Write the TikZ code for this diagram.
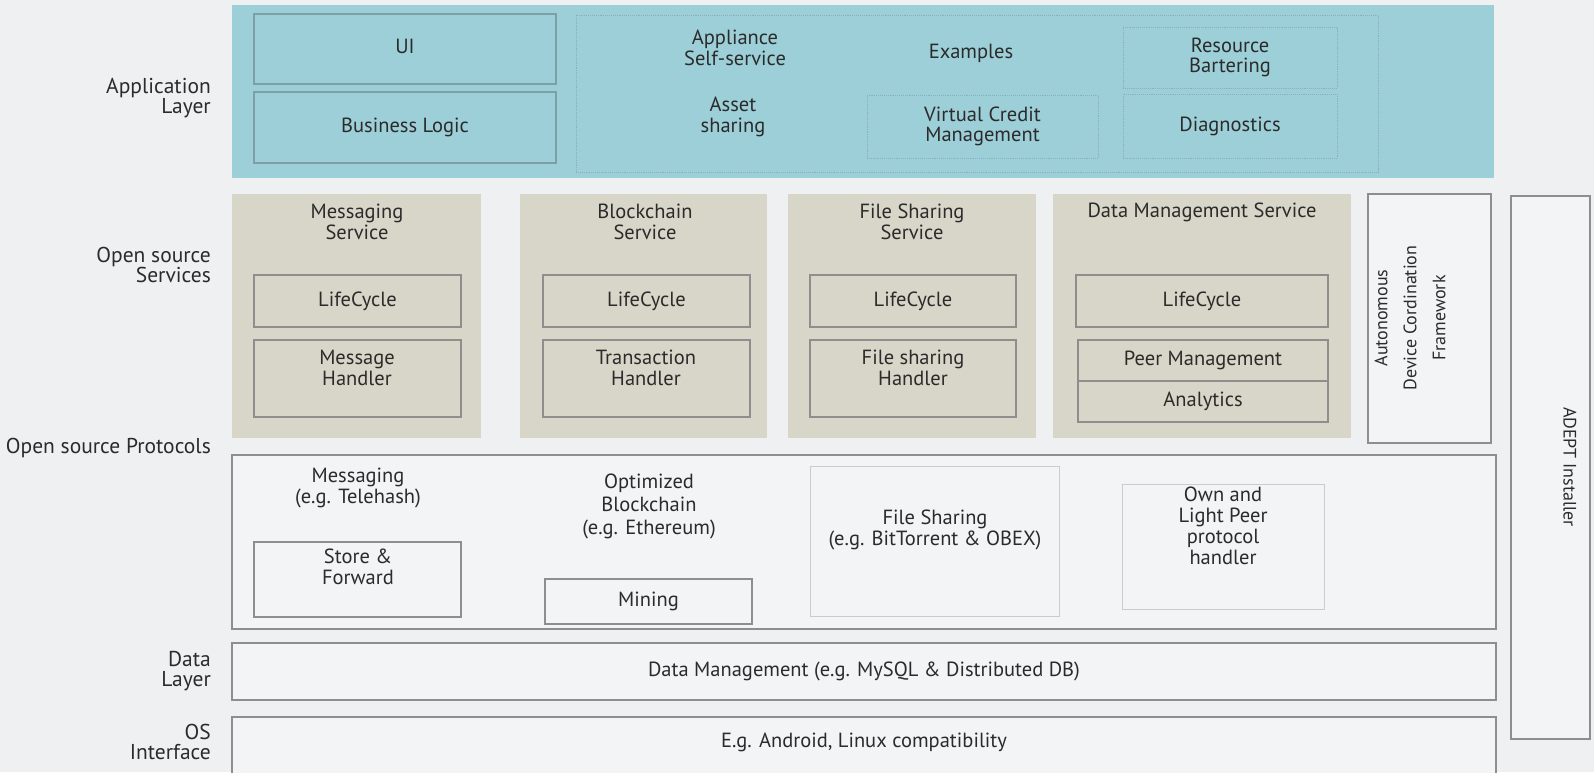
\documentclass[tikz,border=0pt]{standalone}
\usepackage{fontspec}
\setmainfont{PT Sans}
\definecolor{paper}{HTML}{EEF0F1}
\definecolor{appteal}{HTML}{9DCFD8}
\definecolor{tealedge}{HTML}{7E9FA5}
\definecolor{tealdot}{HTML}{86B3BB}
\definecolor{svctan}{HTML}{D8D6C8}
\definecolor{edge}{HTML}{8E8E8E}
\definecolor{faintedge}{HTML}{C9CBCC}
\definecolor{boxwhite}{HTML}{F3F4F5}
\definecolor{ink}{HTML}{2B2B2B}
\tikzset{
  txt/.style={font=\fontsize{20.5}{20.5}\selectfont, text=ink, align=center, inner sep=0pt},
  lbl/.style={txt, font=\fontsize{21.5}{20.5}\selectfont, align=right, anchor=east},
  nw/.style={anchor=north west, inner sep=0pt, outer sep=0pt},
  band/.style={nw, fill=appteal, draw=none},
  appbox/.style={nw, fill=appteal, draw=tealedge, line width=1.3pt, txt},
  dotbox/.style={nw, draw=tealdot, densely dotted, line width=0.9pt, txt},
  svcbox/.style={nw, fill=svctan, draw=none},
  innerbox/.style={nw, fill=svctan, draw=edge, line width=1.3pt, txt},
  plainbox/.style={nw, fill=boxwhite, draw=edge, line width=1.6pt, txt},
  faintbox/.style={nw, draw=faintedge, line width=1pt, txt},
}
% place a box by its corners: #1 style, #2 name, (x1,y1) (x2,y2), #7 text
\newcommand\cornerbox[7]{%
  \node[#1, minimum width={(#5)-(#3)}, minimum height={(#6)-(#4)}] (#2) at (#3,#4) {#7};}
\begin{document}
\begin{tikzpicture}[x=1pt,y=-1pt]
\useasboundingbox (0,0) rectangle (1594,772);
\clip (0,0) rectangle (1594,772);
\fill[paper] (0,0) rectangle (1594,772);

% ---- application layer ----
\cornerbox{band}{app}{232}{5}{1494}{178}{}
\cornerbox{appbox}{ui}{254}{14}{556}{84}{}
\node[txt] (uit) at (405,46) {UI};
\cornerbox{appbox}{bl}{254}{92}{556}{163}{Business Logic}
\cornerbox{dotbox}{examples}{576}{15}{1378}{172}{}
\cornerbox{dotbox}{res}{1123}{27}{1337}{88}{Resource\\Bartering}
\cornerbox{dotbox}{diag}{1123}{94}{1337}{158}{Diagnostics}
\cornerbox{dotbox}{vcm}{867}{95}{1098}{158}{Virtual Credit\\Management}
\node[txt] (appl) at (735,48) {Appliance\\Self-service};
\node[txt] (ext) at (971,53) {Examples};
\node[txt] (asset) at (733,117) {Asset\\sharing};
\node[lbl] (lapp) at (211,98) {Application\\Layer};

% ---- services ----
\cornerbox{svcbox}{msg}{232}{194}{481}{438}{}
\cornerbox{svcbox}{blk}{520}{194}{767}{438}{}
\cornerbox{svcbox}{fs}{788}{194}{1036}{438}{}
\cornerbox{svcbox}{dm}{1053}{194}{1351}{438}{}
\node[txt] (msgt) at (357,222) {Messaging\\Service};
\node[txt] (blkt) at (645,222) {Blockchain\\Service};
\node[txt] (fst) at (912,222) {File Sharing\\Service};
\node[txt] (dmt) at (1202,212) {Data Management Service};

\cornerbox{innerbox}{msglc}{254}{275}{461}{327}{LifeCycle}
\cornerbox{innerbox}{blklc}{543}{275}{750}{327}{LifeCycle}
\cornerbox{innerbox}{fslc}{810}{275}{1016}{327}{LifeCycle}
\cornerbox{innerbox}{dmlc}{1076}{275}{1328}{327}{LifeCycle}
\cornerbox{innerbox}{msgh}{254}{340}{461}{417}{}
\cornerbox{innerbox}{blkh}{543}{340}{750}{417}{}
\cornerbox{innerbox}{fsh}{810}{340}{1016}{417}{}
\node[txt] (msght) at (357,368) {Message\\Handler};
\node[txt] (blkht) at (646,368) {Transaction\\Handler};
\node[txt] (fsht) at (913,368) {File sharing\\Handler};
\cornerbox{innerbox}{peer}{1078}{340}{1328}{381}{Peer Management}
\cornerbox{innerbox}{anl}{1078}{381}{1328}{422}{Analytics}

\cornerbox{plainbox}{adcf}{1368}{194}{1491}{443}{}
\node[txt, rotate=90, font=\fontsize{18}{29}\selectfont] (adcft) at (1410,318)
  {Autonomous\\Device Cordination\\Framework};
\cornerbox{plainbox}{adept}{1511}{196}{1590}{739}{}
\node[txt, rotate=-90, font=\fontsize{18}{20}\selectfont] (adeptt) at (1570,467) {ADEPT Installer};
\node[lbl] (lsvc) at (211,265) {Open source\\Services};

% ---- protocols ----
\cornerbox{plainbox}{proto}{232}{455}{1496}{629}{}
\node[txt] (msgp) at (358,488) {Messaging\\(e.g. Telehash)};
\cornerbox{plainbox}{store}{254}{542}{461}{617}{}
\node[txt] (storet) at (358,567) {Store \&\\Forward};
\node[txt, font=\fontsize{20.5}{23}\selectfont] (blkp) at (649,506)
  {Optimized\\Blockchain\\(e.g. Ethereum)};
\cornerbox{plainbox}{mining}{545}{579}{752}{624}{Mining}
\cornerbox{faintbox}{fsp}{810}{466}{1059}{616}{}
\node[txt] (fspt) at (935,530) {File Sharing\\(e.g. BitTorrent \& OBEX)};
\cornerbox{faintbox}{own}{1122}{484}{1324}{609}{}
\node[txt, font=\fontsize{20.5}{21}\selectfont] (ownt) at (1223,526)
  {Own and\\Light Peer\\protocol\\handler};
\node[lbl] (lproto) at (211,448) {Open source Protocols};

% ---- data and OS layers ----
\cornerbox{plainbox}{data}{232}{643}{1496}{700}{Data Management (e.g. MySQL \& Distributed DB)}
\cornerbox{plainbox}{os}{232}{717}{1496}{790}{}
\node[txt] (ost) at (864,742) {E.g. Android, Linux compatibility};
\node[lbl] (ldata) at (211,671) {Data\\Layer};
\node[lbl] (los) at (211,742) {OS\\Interface};
\end{tikzpicture}
\end{document}
